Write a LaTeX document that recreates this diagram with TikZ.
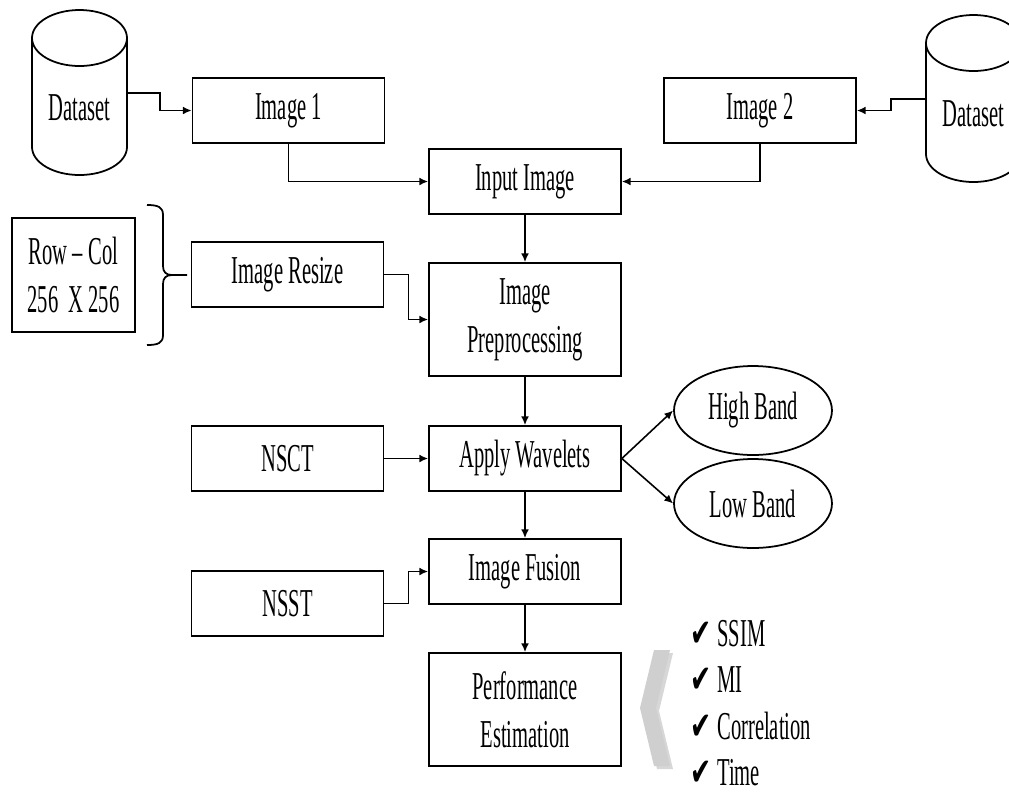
\documentclass[tikz,border=0pt]{standalone}
\usepackage{fontspec}
\setmainfont{Liberation Serif}[FakeStretch=0.52]
\newfontfamily\chkfont{DejaVu Sans}[FakeStretch=0.65]
\usetikzlibrary{positioning, shapes.geometric, arrows.meta}
\tikzset{
  block/.style={rectangle, draw, line width=1pt, minimum width=3.84cm, minimum height=1.3cm, align=center, inner sep=2pt},
  tallblock/.style={block, minimum height=2.26cm},
  band/.style={ellipse, draw, line width=1pt, minimum width=3.16cm, minimum height=1.78cm, inner sep=1pt},
  arrow/.style={-{Latex[length=5pt,width=4.5pt]}, line width=0.9pt},
}

\begin{document}
\begin{tikzpicture}[x=0.02cm, y=-0.02cm, font=\fontsize{22.5}{27.2}\selectfont]
  \tikzset{
    drum/.style={line width=1pt},
    metric/.style={anchor=base west, inner sep=0pt},
  }
  \useasboundingbox (0,0) rectangle (1009,796);

  % Datasets
  \draw[drum] (79.5,38) ellipse [x radius=47.5, y radius=28];
  \draw[drum] (32,38) -- (32,147) arc [start angle=180, end angle=0, x radius=47.5, y radius=28] -- (127,38);
  \node (ds1) at (79.5,108) {Dataset};
  \coordinate (ds1out) at (127,93);

  \draw[drum] (973.5,43) ellipse [x radius=47.5, y radius=28];
  \draw[drum] (926,43) -- (926,154) arc [start angle=180, end angle=0, x radius=47.5, y radius=28] -- (1021,43);
  \node (ds2) at (973.5,114) {Dataset};
  \coordinate (ds2out) at (926,99);

  % Main blocks
  \node[block] (img1) at (288.5,110.5) {Image 1};
  \node[block] (img2) at (760,110.5) {Image 2};
  \node[block] (input) at (525,181.5) {Input Image};
  \node[tallblock] (prep) at (525,319.5) {Image\\Preprocessing};
  \node[block] (wave) at (525,458.5) {Apply Wavelets};
  \node[block] (fusion) at (525,571.5) {Image Fusion};
  \node[tallblock] (perf) at (525,709.5) {Performance\\Estimation};

  % Side blocks
  \node[block, minimum width=2.46cm, minimum height=2.28cm] (rowcol) at (73.5,275) {Row -- Col\\256~~X 256};
  \node[block] (resize) at (287.5,274.5) {Image Resize};
  \node[block] (nsct) at (287.5,458.5) {NSCT};
  \node[block] (nsst) at (287.5,603.5) {NSST};
  \node[band] (high) at (753,410.5) {High Band};
  \node[band] (low) at (753,503.5) {Low Band};

  % Brace
  \draw[line width=1pt] (147,205) .. controls (158,205) and (163,207) .. (163,215) -- (163,266)
    .. controls (163,272) and (166,275) .. (172,275) -- (187,275);
  \draw[line width=1pt] (172,275) .. controls (166,275) and (163,278) .. (163,284) -- (163,335)
    .. controls (163,343) and (158,345) .. (147,345);

  % Connectors
  \draw[arrow] (ds1out) -- ++(33,0) |- (img1.west);
  \draw[arrow] (ds2out) -- ++(-35,0) |- (img2.east);
  \draw[arrow] (img1.south) |- (input.west);
  \draw[arrow] (img2.south) |- (input.east);
  \draw[arrow] (input) -- (prep);
  \draw[arrow] (resize.east) -- ++(24,0) |- (prep.west);
  \draw[arrow] (prep) -- (wave);
  \draw[arrow] (nsct) -- (wave);
  \draw[arrow] (wave.east) -- (high.west);
  \draw[arrow] (wave.east) -- (low.west);
  \draw[arrow] (wave) -- (fusion);
  \draw[arrow] (nsst.east) -- ++(24,0) |- (fusion.west);
  \draw[arrow] (fusion) -- (perf);

  % Chevron
  \fill[gray!70, opacity=0.45] (657,653) -- (673,653) -- (659,711) -- (673,769) -- (657,769) -- (643,711) -- cycle;
  \fill[gray!38] (654,650) -- (670,650) -- (656,708) -- (670,766) -- (654,766) -- (640,708) -- cycle;

  % Metrics
  \foreach \m [count=\i] in {SSIM, MI, Correlation, Time}
    \node[metric] (met\i) at (690,{646+46.5*(\i-1)}) {{\chkfont\fontsize{22}{26}\selectfont ✔}\hspace{0.12cm}\m};

\end{tikzpicture}
\end{document}
